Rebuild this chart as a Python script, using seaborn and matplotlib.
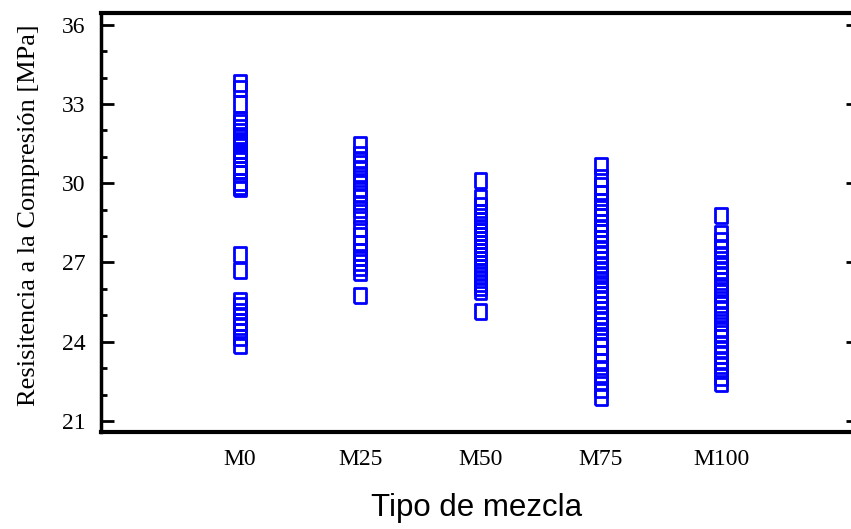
import numpy as np
import pandas as pd
import seaborn as sns
import matplotlib.pyplot as plt
from matplotlib.ticker import MultipleLocator

# values (MPa)
mezclas = ['M0', 'M25', 'M50', 'M75', 'M100']
m0 = [33.8, 33.6, 33.0, 32.4, 32.3, 32.1, 31.95, 31.75, 31.6, 31.45, 31.25, 31.1,
      30.95, 30.65, 30.5, 30.35, 30.05, 29.9, 29.8, 27.3, 26.7, 25.55, 25.35,
      25.15, 24.95, 24.75, 24.6, 24.4, 24.17, 23.87]
m25 = [31.45, 31.1, 30.9, 30.75, 30.55, 30.3, 30.06, 29.8, 29.6, 29.47, 29.2, 29.0,
       28.75, 28.3, 28.0, 27.7, 27.4, 27.2, 27.0, 26.82, 26.62, 25.75]
m50 = [30.1, 29.47, 29.16, 28.9, 28.75, 28.6, 28.45, 28.3, 28.15, 28.0, 27.85, 27.7,
       27.55, 27.4, 27.25, 27.1, 26.95, 26.8, 26.65, 26.5, 26.35, 26.2, 26.05, 25.9,
       25.15]
m75 = [30.65, 30.2, 29.9, 29.6, 29.3, 29.1, 28.9, 28.72, 28.5, 28.3, 28.12, 27.9,
       27.7, 27.5, 27.3, 27.1, 26.9, 26.7, 26.5, 26.35, 26.2, 26.0, 25.8, 25.6, 25.4,
       25.2, 25.0, 24.8, 24.6, 24.4, 24.14, 23.84, 23.54, 23.23, 22.95, 22.7, 22.5,
       22.18, 21.9]
m100 = [28.77, 28.11, 27.83, 27.55, 27.3, 27.1, 26.9, 26.7, 26.5, 26.3, 26.06, 25.85,
        25.6, 25.4, 25.2, 25.0, 24.74, 24.5, 24.3, 24.14, 23.9, 23.7, 23.5, 23.3,
        23.1, 22.9, 22.66, 22.41]
y_ticks = [21, 24, 27, 30, 33, 36]

valores = [m0, m25, m50, m75, m100]
df = pd.DataFrame({
    'mezcla': np.repeat(mezclas, [len(v) for v in valores]),
    'resistencia': np.concatenate(valores),
})

sns.set_style('white')
plt.rcParams['font.family'] = ['Liberation Serif', 'DejaVu Serif']
plt.rcParams['text.color'] = 'black'
plt.rcParams['axes.labelcolor'] = 'black'
plt.rcParams['xtick.color'] = 'black'
plt.rcParams['ytick.color'] = 'black'

fig = plt.figure(figsize=(8.51, 5.29), dpi=100)
W, H = 851, 529
ax = fig.add_axes([101 / W, 1 - 432 / H, (859 - 101) / W, (432 - 13) / H])

# tall open rectangle marker
rect = [(-0.38, -0.5), (0.38, -0.5), (0.38, 0.5), (-0.38, 0.5), (-0.38, -0.5)]
sns.stripplot(data=df, x='mezcla', y='resistencia', order=mezclas, jitter=False,
              marker=rect, size=11, color='blue', linewidth=2, ax=ax)
for coll in ax.collections:
    coll.set_facecolor('none')
    coll.set_edgecolor('#0000ff')
    coll.set_linewidth(2)

ax.set_xlim(-1.155, 5.145)
ax.set_ylim(20.58, 36.45)
ax.set_yticks(y_ticks)
ax.yaxis.set_minor_locator(MultipleLocator(1))

for side in ['top', 'bottom']:
    ax.spines[side].set_linewidth(3)
ax.spines['left'].set_linewidth(2.5)
ax.spines['right'].set_visible(False)
for sp in ax.spines.values():
    sp.set_color('black')

ax.tick_params(axis='y', which='major', direction='in', length=9.5, width=2,
               left=True, right=True, pad=11, labelsize=17)
ax.tick_params(axis='y', which='minor', direction='in', length=4.5, width=2,
               left=True, right=False)
ax.tick_params(axis='x', length=0, pad=12, labelsize=17)

ax.set_ylabel('Resisitencia a la Compresión [MPa]', fontsize=19)
ax.yaxis.set_label_coords(-(101 - 40) / (859 - 101), 0.518)
ax.set_xlabel('Tipo de mezcla', fontsize=22.5, family=['Liberation Sans', 'DejaVu Sans'])
ax.xaxis.set_label_coords((477 - 101) / (859 - 101), -(493 - 432) / (432 - 13))

fig.savefig('out.png', dpi=100)
